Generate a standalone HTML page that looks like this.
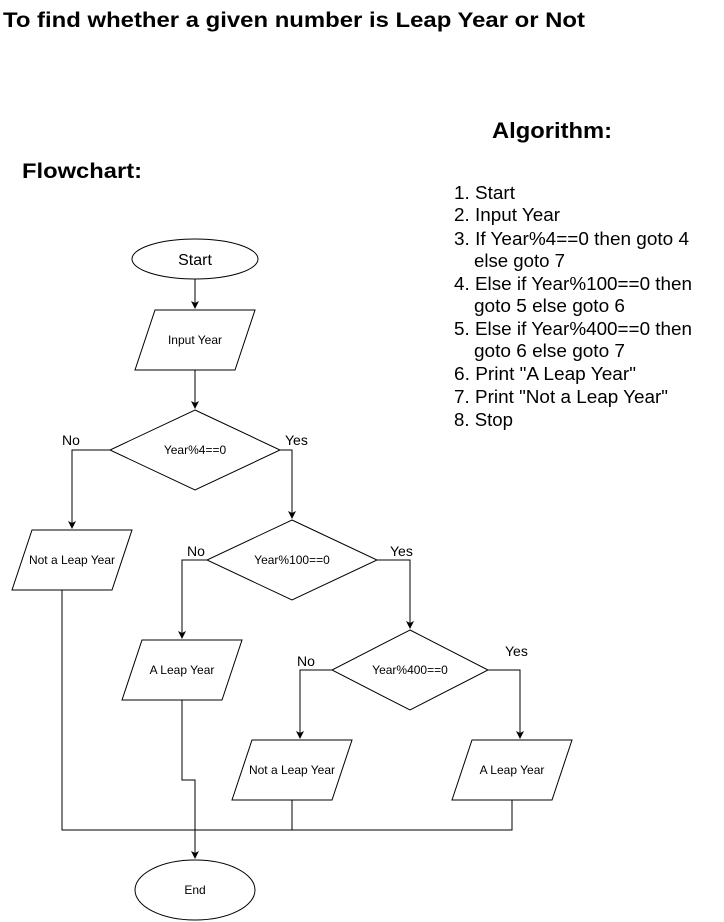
<!DOCTYPE html>
<html><head><meta charset="utf-8"><style>
html,body{margin:0;padding:0;background:#fff;}
svg{display:block;font-family:"Liberation Sans",Arial,sans-serif;}
</style></head><body>
<svg width="724" height="922" viewBox="0 0 724 922" xmlns="http://www.w3.org/2000/svg">
<defs><marker id="a" markerWidth="10" markerHeight="10" refX="7" refY="4" orient="auto" markerUnits="userSpaceOnUse"><path d="M0,0 L8,4 L0,8 L2,4 Z" fill="#000"/></marker></defs>
<text x="3" y="27" font-size="21" font-weight="bold" textLength="582" lengthAdjust="spacingAndGlyphs">To find whether a given number is Leap Year or Not</text>
<text x="492" y="138" font-size="22" font-weight="bold" textLength="120" lengthAdjust="spacingAndGlyphs">Algorithm:</text>
<text x="22" y="178" font-size="21" font-weight="bold" textLength="120" lengthAdjust="spacingAndGlyphs">Flowchart:</text>
<g font-size="18">
<text x="454" y="199" textLength="61" lengthAdjust="spacingAndGlyphs">1. Start</text>
<text x="454" y="221" textLength="106" lengthAdjust="spacingAndGlyphs">2. Input Year</text>
<text x="454" y="245" textLength="235" lengthAdjust="spacingAndGlyphs">3. If Year%4==0 then goto 4</text>
<text x="474" y="267" textLength="91" lengthAdjust="spacingAndGlyphs">else goto 7</text>
<text x="454" y="290" textLength="238" lengthAdjust="spacingAndGlyphs">4. Else if Year%100==0 then</text>
<text x="474" y="312" textLength="151" lengthAdjust="spacingAndGlyphs">goto 5 else goto 6</text>
<text x="454" y="335" textLength="238" lengthAdjust="spacingAndGlyphs">5. Else if Year%400==0 then</text>
<text x="474" y="357" textLength="151" lengthAdjust="spacingAndGlyphs">goto 6 else goto 7</text>
<text x="454" y="380" textLength="182" lengthAdjust="spacingAndGlyphs">6. Print "A Leap Year"</text>
<text x="454" y="403" textLength="214" lengthAdjust="spacingAndGlyphs">7. Print "Not a Leap Year"</text>
<text x="454" y="426" textLength="59" lengthAdjust="spacingAndGlyphs">8. Stop</text>
</g>
<g fill="#fff" stroke="#000" stroke-width="1">
<ellipse cx="195" cy="259" rx="63" ry="20"/>
<polygon points="155,310 255,310 235,370 135,370"/>
<polygon points="195,410 280,450 195,490 110,450"/>
<polygon points="32,530 132,530 112,590 12,590"/>
<polygon points="292,520 377,560 292,600 207,560"/>
<polygon points="142,640 242,640 222,700 122,700"/>
<polygon points="410,630 488,670 410,710 332,670"/>
<polygon points="252,740 352,740 332,800 232,800"/>
<polygon points="472,740 572,740 552,800 452,800"/>
<ellipse cx="195" cy="890" rx="60" ry="30"/>
</g>
<g fill="none" stroke="#000" stroke-width="1">
<path d="M195,279 V308" marker-end="url(#a)"/>
<path d="M195,370 V408" marker-end="url(#a)"/>
<path d="M110,450 H72 V528" marker-end="url(#a)"/>
<path d="M280,450 H292 V518" marker-end="url(#a)"/>
<path d="M207,560 H182 V638" marker-end="url(#a)"/>
<path d="M377,560 H410 V628" marker-end="url(#a)"/>
<path d="M332,670 H300 V738" marker-end="url(#a)"/>
<path d="M488,670 H520 V738" marker-end="url(#a)"/>
<path d="M62,590 V830 H512 V800"/>
<path d="M292,800 V830"/>
<path d="M182,700 V780 H195 V858" marker-end="url(#a)"/>
</g>
<g font-size="12" text-anchor="middle">
<text x="195" y="344">Input Year</text>
<text x="195" y="454">Year%4==0</text>
<text x="72" y="564">Not a Leap Year</text>
<text x="292" y="564">Year%100==0</text>
<text x="182" y="674">A Leap Year</text>
<text x="410" y="674">Year%400==0</text>
<text x="292" y="774">Not a Leap Year</text>
<text x="512" y="774">A Leap Year</text>
<text x="195" y="894">End</text>
</g>
<text x="195" y="265" font-size="16" text-anchor="middle">Start</text>
<g font-size="14">
<text x="62" y="445">No</text>
<text x="285" y="445">Yes</text>
<text x="187" y="556">No</text>
<text x="390" y="556">Yes</text>
<text x="297" y="666">No</text>
<text x="505" y="656">Yes</text>
</g>
</svg>
</body></html>
